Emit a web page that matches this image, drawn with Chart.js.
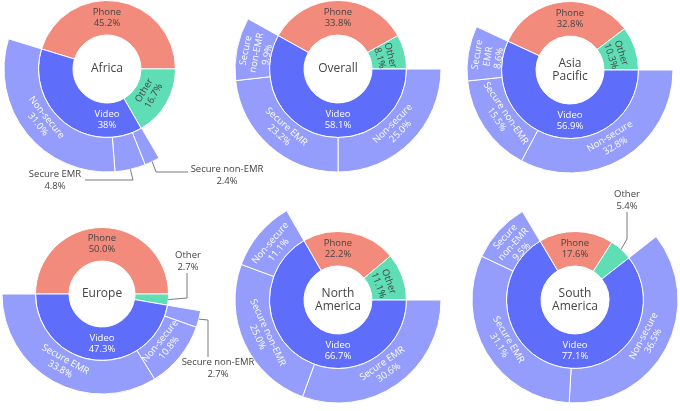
<!DOCTYPE html>
<html>
<head>
<meta charset="utf-8">
<script src="https://cdn.jsdelivr.net/npm/chart.js@4/dist/chart.umd.min.js"></script>
<style>
  body { margin: 0; width: 680px; height: 411px; position: relative; overflow: hidden; background: #fff; }
  canvas { position: absolute; }
</style>
</head>
<body>
<script>
// values as printed on the chart (kept as text so "38%" vs "50.0%" stays as shown)
const regions = ['Africa', 'Overall', 'Asia Pacific', 'Europe', 'North America', 'South America'];
const modes = ['Phone', 'Other', 'Video'];
const phone = ['45.2', '33.8', '32.8', '50.0', '22.2', '17.6'];
const other = ['16.7', '8.1', '10.3', '2.7', '11.1', '5.4'];
const video = ['38', '58.1', '56.9', '47.3', '66.7', '77.1'];
const videoKinds = ['Non-secure', 'Secure EMR', 'Secure non-EMR'];
const nonSecure = ['31.0', '25.0', '32.8', '10.8', '11.1', '36.5'];
const secureEMR = ['4.8', '23.2', '8.6', '33.8', '30.6', '31.1'];
const secureNonEMR = ['2.4', '9.9', '15.5', '2.7', '25.0', '9.5'];

const colors = { Phone: '#f28b7b', Other: '#5fddb5', Video: '#5e6dfa', sub: '#949dfb' };
const FONT = '"Open Sans", "Noto Sans", sans-serif';

// where each sunburst sits on the page and where outside labels go
const layout = [
  { cx: 107, cy: 69, r: 103, videoStart: 60.1, asc: true, callouts: {
      'Secure EMR': { elbow: [26, 111], end: [-22, 111], text: [-52, 105] },
      'Secure non-EMR': { elbow: [49, 103], end: [81, 103], text: [120, 100] } } },
  { cx: 338, cy: 69, r: 103, videoStart: 0 },
  { cx: 570, cy: 70, r: 103, videoStart: 0 },
  { cx: 102, cy: 294, r: 100, videoStart: 9.7, asc: true, callouts: {
      'Other': { elbow: [85, 4], end: [85, -21], text: [86, -39] },
      'Secure non-EMR': { elbow: [106, 26], end: [106, 63], text: [116, 68] } } },
  { cx: 338, cy: 300, r: 103, videoStart: 0 },
  { cx: 575, cy: 300, r: 103, videoStart: -38, callouts: {
      'Other': { elbow: [52, -61], end: [52, -88], text: [52, -106] } } }
];

const PAD = 150;

function containsAngle(a0, a1, target) {
  for (let k = -2; k <= 2; k++) {
    const t = target + k * 2 * Math.PI;
    if (t >= a0 && t <= a1) return true;
  }
  return false;
}

function drawLines(ctx, lines, x, y, lh) {
  const top = y - (lines.length - 1) * lh / 2;
  lines.forEach((s, i) => ctx.fillText(s, x, top + i * lh));
}

const sunLabels = {
  id: 'sunLabels',
  afterDatasetsDraw(chart) {
    const ctx = chart.ctx;
    const opts = chart.options.plugins.sunLabels;
    const lh = 11;
    ctx.save();
    ctx.font = '9.5px ' + FONT;
    ctx.textAlign = 'center';
    ctx.textBaseline = 'middle';
    chart.data.datasets.forEach((ds, di) => {
      const meta = chart.getDatasetMeta(di);
      meta.data.forEach((arc, i) => {
        const name = ds.names[i];
        if (!name) return;
        const { x, y, startAngle, endAngle, innerRadius, outerRadius } = arc;
        const span = endAngle - startAngle;
        const spanDeg = span * 180 / Math.PI;
        const mid = (startAngle + endAngle) / 2;
        const text = ds.texts[i] + '%';
        ctx.fillStyle = ds.textColors[i];

        if (spanDeg < 25) {
          const c = opts.callouts && opts.callouts[name];
          if (!c) return;
          const sx = x + Math.cos(mid) * outerRadius, sy = y + Math.sin(mid) * outerRadius;
          ctx.strokeStyle = '#7a7a7a';
          ctx.lineWidth = 1;
          ctx.beginPath();
          ctx.moveTo(sx, sy);
          ctx.lineTo(x + c.elbow[0], y + c.elbow[1]);
          ctx.lineTo(x + c.end[0], y + c.end[1]);
          ctx.stroke();
          ctx.fillStyle = '#444';
          ctx.fillText(name, x + c.text[0], y + c.text[1]);
          ctx.fillText(text, x + c.text[0], y + c.text[1] + 12);
          return;
        }

        if (ds.horizontal[i]) {
          let a = mid;
          if (containsAngle(startAngle, endAngle, -Math.PI / 2)) a = -Math.PI / 2;
          else if (containsAngle(startAngle, endAngle, Math.PI / 2)) a = Math.PI / 2;
          const rr = (innerRadius + outerRadius) / 2;
          drawLines(ctx, [name, text], x + Math.cos(a) * rr, y + Math.sin(a) * rr, lh);
          return;
        }

        const rr = innerRadius + (outerRadius - innerRadius) * 0.42;
        let rot = mid + Math.PI / 2;
        while (rot > Math.PI / 2) rot -= Math.PI;
        while (rot <= -Math.PI / 2) rot += Math.PI;
        const lines = spanDeg < 38 ? name.split(' ').concat([text]) : [name, text];
        ctx.save();
        ctx.translate(x + Math.cos(mid) * rr, y + Math.sin(mid) * rr);
        ctx.rotate(rot);
        drawLines(ctx, lines, 0, 0, lh);
        ctx.restore();
      });
    });
    // region name in the hole
    const arc0 = chart.getDatasetMeta(1).data[0];
    ctx.fillStyle = '#444';
    ctx.font = '12px ' + FONT;
    drawLines(ctx, opts.title.split(' '), arc0.x, arc0.y, 13.5);
    ctx.restore();
  }
};

regions.forEach((region, k) => {
  const L = layout[k];
  const inner = [phone[k], other[k], video[k]].map(Number);
  let subs = videoKinds.map((n, j) => ({ name: n, text: [nonSecure, secureEMR, secureNonEMR][j][k] }));
  subs.sort((a, b) => Number(b.text) - Number(a.text));
  if (L.asc) subs.reverse();
  const outerVals = [inner[0], inner[1]].concat(subs.map(s => Number(s.text)));
  const total = inner[0] + inner[1] + inner[2];
  const rotation = L.videoStart + 90 - (inner[0] + inner[1]) / total * 360;

  const size = 2 * (L.r + PAD);
  const canvas = document.createElement('canvas');
  canvas.width = size;
  canvas.height = size;
  canvas.style.left = (L.cx - L.r - PAD) + 'px';
  canvas.style.top = (L.cy - L.r - PAD) + 'px';
  canvas.style.width = size + 'px';
  canvas.style.height = size + 'px';
  document.body.appendChild(canvas);

  new Chart(canvas.getContext('2d'), {
    type: 'doughnut',
    data: {
      labels: modes.concat(subs.map(s => s.name)),
      datasets: [
        {
          data: outerVals,
          names: [null, null].concat(subs.map(s => s.name)),
          texts: [null, null].concat(subs.map(s => s.text)),
          horizontal: [false, false, false, false, false],
          textColors: ['#444', '#444', '#fff', '#fff', '#fff'],
          backgroundColor: ['rgba(0,0,0,0)', 'rgba(0,0,0,0)', colors.sub, colors.sub, colors.sub],
          borderColor: '#fff',
          borderWidth: [0, 0, 1, 1, 1]
        },
        {
          data: inner,
          names: modes,
          texts: [phone[k], other[k], video[k]],
          horizontal: [true, false, true],
          textColors: ['#444', '#444', '#fff'],
          backgroundColor: modes.map(m => colors[m]),
          borderColor: '#fff',
          borderWidth: 1
        }
      ]
    },
    options: {
      responsive: false,
      animation: false,
      events: [],
      rotation: rotation,
      radius: L.r,
      cutout: '33%',
      layout: { padding: PAD },
      plugins: {
        legend: { display: false },
        tooltip: { enabled: false },
        sunLabels: { title: region, callouts: L.callouts }
      }
    },
    plugins: [sunLabels]
  });
});
</script>
</body>
</html>
